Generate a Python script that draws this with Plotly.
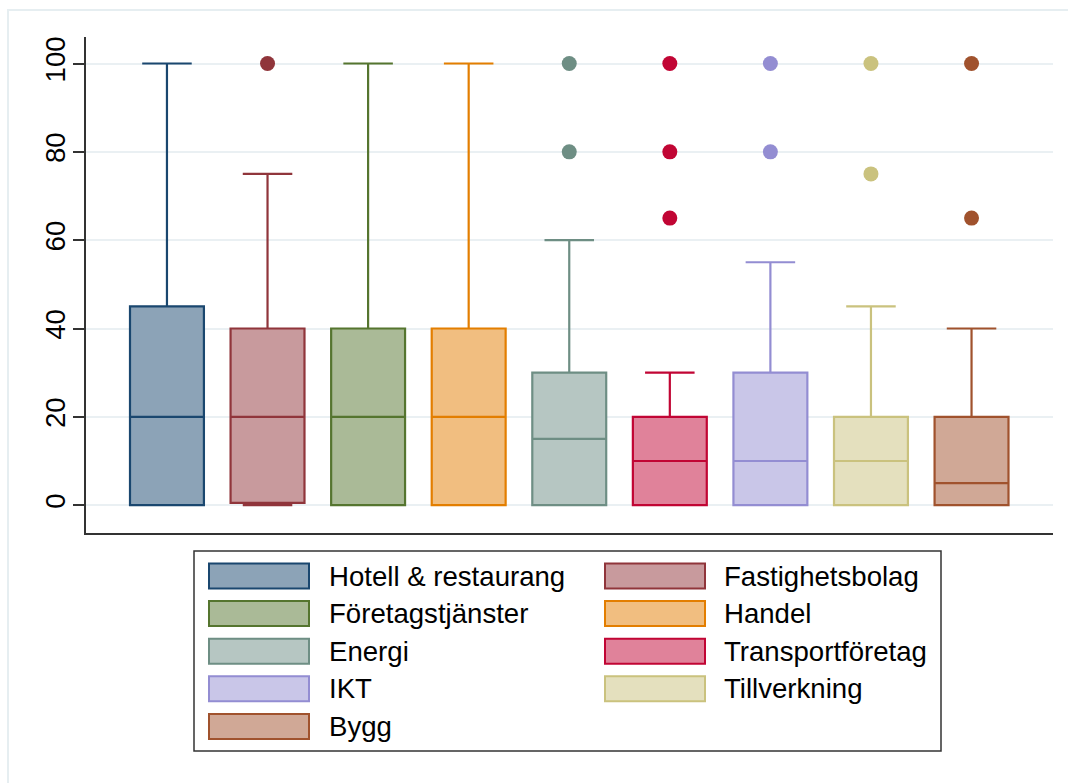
import plotly.graph_objects as go

# ---------------- data ----------------
categories = ["Hotell & restaurang", "Fastighetsbolag", "Företagstjänster", "Handel",
              "Energi", "Transportföretag", "IKT", "Tillverkning", "Bygg"]
lower_whisker = [0, 0, 0, 0, 0, 0, 0, 0, 0]
q1_values     = [0, 0.5, 0, 0, 0, 0, 0, 0, 0]
median_values = [20, 20, 20, 20, 15, 10, 10, 10, 5]
q3_values     = [45, 40, 40, 40, 30, 20, 30, 20, 20]
upper_whisker = [100, 75, 100, 100, 60, 30, 55, 45, 40]
outliers = [[], [100], [], [], [80, 100], [65, 80, 100], [80, 100], [75, 100], [65, 100]]
y_ticks = [0, 20, 40, 60, 80, 100]

# ---------------- style ----------------
line_colors = ["#1a476f", "#90353b", "#55752f", "#e37e00", "#6e8e84",
               "#c10534", "#938dd2", "#cac27e", "#a0522d"]


def lighten(hexcol, f=0.5):
    h = hexcol.lstrip("#")
    r, g, b = (int(h[i:i + 2], 16) for i in (0, 2, 4))
    r, g, b = (round(c + (255 - c) * f) for c in (r, g, b))
    return f"#{r:02x}{g:02x}{b:02x}"


W, H = 1068, 783
L, R, T, B = 86, 15, 37, 250
PW, PH = W - L - R, H - T - B
FONT = "Liberation Sans, Arial, Helvetica, sans-serif"
FS = 27.6


def px2x(px):
    return (px - L) / PW


def py2y(py):
    return (H - B - py) / PH


fig = go.Figure()
for i, name in enumerate(categories):
    fig.add_trace(go.Box(
        x=[i], q1=[q1_values[i]], median=[median_values[i]], q3=[q3_values[i]],
        lowerfence=[lower_whisker[i]], upperfence=[upper_whisker[i]],
        name=name, boxpoints=False, width=0.735, whiskerwidth=0.67,
        line=dict(color=line_colors[i], width=2.2),
        fillcolor=lighten(line_colors[i]),
        showlegend=False, hoverinfo="skip",
    ))
    if outliers[i]:
        fig.add_trace(go.Scatter(
            x=[i] * len(outliers[i]), y=outliers[i], mode="markers",
            marker=dict(color=line_colors[i], size=15, line=dict(width=0)),
            showlegend=False, hoverinfo="skip",
        ))

shapes = []
annotations = []
# outer graph-region frame
shapes.append(dict(type="rect", xref="paper", yref="paper",
                   x0=px2x(8), x1=px2x(1090), y0=py2y(800), y1=py2y(10),
                   line=dict(color="#e6eef1", width=2), fillcolor="rgba(0,0,0,0)",
                   layer="below"))
# legend frame
shapes.append(dict(type="rect", xref="paper", yref="paper",
                   x0=px2x(194), x1=px2x(941), y0=py2y(751), y1=py2y(551),
                   line=dict(color="#333333", width=1.5), fillcolor="white"))
col_x = [209, 605]
text_x = [327, 722]
row0, row_step = 576, 37.6
for i, name in enumerate(categories):
    r, c = divmod(i, 2)
    cy = row0 + r * row_step
    shapes.append(dict(type="rect", xref="paper", yref="paper",
                       x0=px2x(col_x[c]), x1=px2x(col_x[c] + 100),
                       y0=py2y(cy + 12.5), y1=py2y(cy - 12.5),
                       line=dict(color=line_colors[i], width=2),
                       fillcolor=lighten(line_colors[i])))
    annotations.append(dict(xref="paper", yref="paper", x=px2x(text_x[c]), y=py2y(cy),
                            text=name, showarrow=False, xanchor="left", yanchor="middle",
                            font=dict(family=FONT, size=FS, color="black")))

fig.update_layout(
    width=W, height=H,
    margin=dict(l=L, r=R, t=T, b=B, pad=0),
    paper_bgcolor="white", plot_bgcolor="white",
    boxmode="overlay",
    showlegend=False,
    font=dict(family=FONT, size=FS, color="black"),
    shapes=shapes, annotations=annotations,
    xaxis=dict(range=[-0.805, 8.81], showticklabels=False, ticks="", showgrid=False,
               zeroline=False, showline=True, linecolor="#333333", linewidth=1.5),
    yaxis=dict(range=[-6.3, 106], tickvals=y_ticks, tickangle=-90,
               ticks="outside", ticklen=11, tickwidth=1.5, tickcolor="#333333",
               showgrid=True, gridcolor="#eaf0f3", gridwidth=2, zeroline=False,
               showline=True, linecolor="#333333", linewidth=1.5,
               tickfont=dict(family=FONT, size=FS, color="black"), ticklabelstandoff=-3),
)

fig.write_html("out.html", config={"displayModeBar": False},
               post_script="document.body.style.margin='0';")
